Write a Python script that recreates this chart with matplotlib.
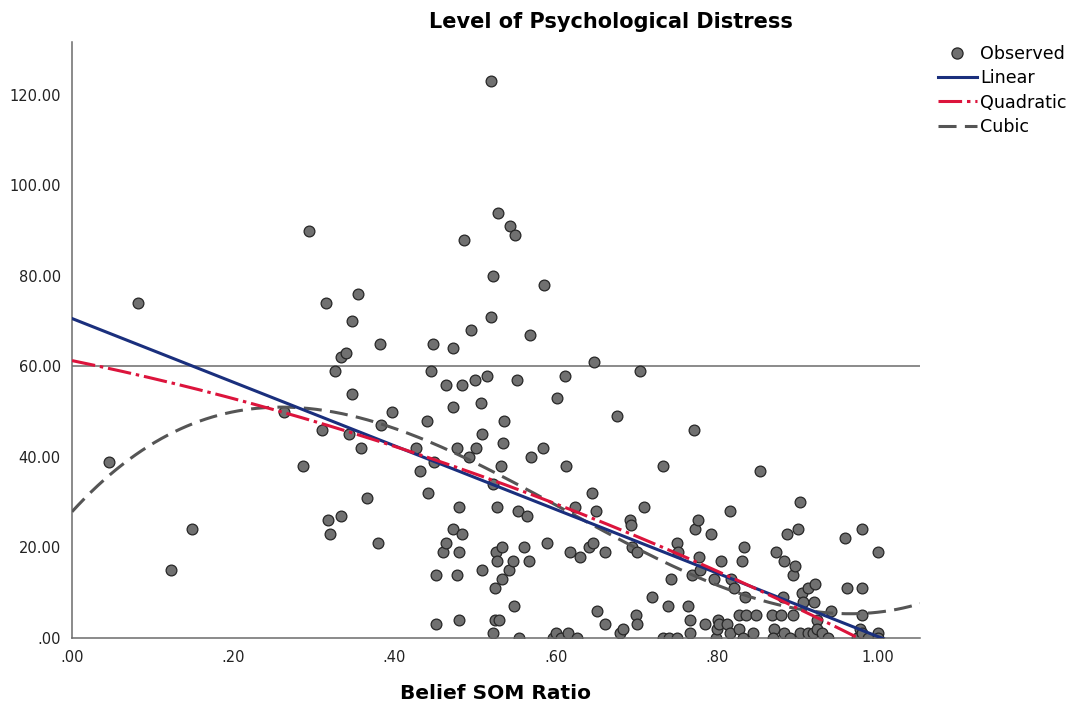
import numpy as np
import matplotlib
matplotlib.use("Agg")
import matplotlib.pyplot as plt
from matplotlib.lines import Line2D

plt.rcParams['font.family'] = ['DejaVu Sans']
plt.rcParams['lines.scale_dashes'] = False

belief_ratio = [
    0.046, 0.082, 0.123, 0.149, 0.263, 0.287, 0.294, 0.310, 0.315, 0.318,
    0.320, 0.326, 0.334, 0.340, 0.334, 0.344, 0.347, 0.347, 0.355, 0.359,
    0.366, 0.380, 0.382, 0.383, 0.397, 0.427, 0.432,
    0.440, 0.442, 0.445, 0.448, 0.449, 0.452, 0.452, 0.460, 0.464, 0.464,
    0.473, 0.473, 0.473, 0.478, 0.478, 0.480, 0.480, 0.480, 0.484, 0.484,
    0.486, 0.493, 0.495, 0.500, 0.501, 0.507, 0.509, 0.509, 0.515, 0.520,
    0.520, 0.522, 0.522, 0.525, 0.525, 0.530, 0.522, 0.527, 0.526, 0.527,
    0.529, 0.532, 0.533, 0.533, 0.535, 0.536, 0.542, 0.543, 0.547, 0.548,
    0.550, 0.552, 0.553, 0.555, 0.561, 0.565, 0.567, 0.568, 0.569, 0.584,
    0.586, 0.589,
    0.597, 0.600, 0.607, 0.615, 0.627, 0.602, 0.612, 0.613, 0.618, 0.624,
    0.630, 0.641, 0.646, 0.645, 0.648, 0.650, 0.651, 0.661, 0.661, 0.676,
    0.680, 0.684, 0.692, 0.694, 0.695, 0.701, 0.700, 0.701, 0.705, 0.710,
    0.720, 0.733, 0.733, 0.739, 0.743,
    0.741, 0.751, 0.751, 0.752, 0.764, 0.767, 0.767, 0.769, 0.772, 0.773,
    0.777, 0.778, 0.779, 0.785, 0.793, 0.797, 0.799, 0.800, 0.801, 0.803,
    0.805, 0.813, 0.816, 0.816, 0.818, 0.821, 0.828, 0.828, 0.833, 0.831,
    0.834, 0.835, 0.836, 0.845, 0.849, 0.854, 0.868, 0.871, 0.870, 0.873,
    0.880, 0.883, 0.883, 0.887, 0.882, 0.891,
    0.895, 0.897, 0.895, 0.901, 0.903, 0.903, 0.906, 0.907, 0.913, 0.913,
    0.919, 0.921, 0.922, 0.924, 0.924, 0.931, 0.938, 0.942, 0.959, 0.962,
    0.974, 0.978, 0.980, 0.980, 0.980, 0.980, 0.988, 1.000, 1.000, 1.000,
]
distress = [
    39, 74, 15, 24, 50, 38, 90, 46, 74, 26,
    23, 59, 62, 63, 27, 45, 70, 54, 76, 42,
    31, 21, 65, 47, 50, 42, 37,
    48, 32, 59, 65, 39, 14, 3, 19, 56, 21,
    64, 51, 24, 42, 14, 29, 19, 4, 56, 23,
    88, 40, 68, 57, 42, 52, 45, 15, 58, 123,
    71, 80, 34, 11, 4, 4, 1, 29, 19, 17,
    94, 38, 20, 13, 43, 48, 15, 91, 17, 7,
    89, 57, 28, 0, 20, 27, 17, 67, 40, 42,
    78, 21,
    0, 1, 0, 1, 0, 53, 58, 38, 19, 29,
    18, 20, 21, 32, 61, 28, 6, 19, 3, 49,
    1, 2, 26, 25, 20, 19, 5, 3, 59, 29,
    9, 38, 0, 7, 13,
    0, 0, 21, 19, 7, 4, 1, 14, 46, 24,
    26, 18, 15, 3, 23, 13, 0, 2, 4, 3,
    17, 3, 28, 1, 13, 11, 5, 2, 0, 17,
    20, 9, 5, 1, 5, 37, 5, 2, 0, 19,
    5, 17, 1, 23, 9, 0,
    14, 16, 5, 24, 30, 1, 10, 8, 11, 1,
    1, 8, 12, 4, 2, 1, 0, 6, 22, 11,
    0, 2, 24, 11, 5, 1, 0, 19, 1, 0,
]

# fitted curve coefficients (highest power first)
linear_coef = [-70.3, 70.6]
quadratic_coef = [-26.9, -36.6, 61.3]
cubic_coef = [260.1, -477.9, 195.6, 27.9]

reference_line = 60
x_ticks = [0.0, 0.2, 0.4, 0.6, 0.8, 1.0]
y_ticks = [0, 20, 40, 60, 80, 100, 120]


def spss_fmt(v):
    s = f"{v:.2f}"
    return s[1:] if s.startswith("0.") else s


fig = plt.figure(figsize=(10.78, 7.13), dpi=100)
ax = fig.add_axes([72 / 1078, 1 - 638 / 713, (920 - 72) / 1078, (638 - 42) / 713])

ax.set_xlim(0, 1.052)
ax.set_ylim(0, 131.7)

# reference line
ax.axhline(reference_line, color='#6b6b6b', linewidth=1.1, zorder=1)

# observed points
ax.scatter(belief_ratio, distress, s=60, facecolor='#707070', edgecolor='#262626',
           linewidth=0.9, zorder=2)

# fit lines
xs = np.linspace(0, 1.052, 400)
ax.plot(xs, np.polyval(linear_coef, xs), color='#1a2f7d', linewidth=2.2, zorder=4)
q_line, = ax.plot(xs, np.polyval(quadratic_coef, xs), color='#dc143c', linewidth=2.2, zorder=5)
q_line.set_dashes([17, 3.5, 2.5, 3.5])
c_line, = ax.plot(xs, np.polyval(cubic_coef, xs), color='#555555', linewidth=2.2, zorder=3)
c_line.set_dashes([13, 6])

# axes styling
for side in ['top', 'right']:
    ax.spines[side].set_visible(False)
for side in ['left', 'bottom']:
    ax.spines[side].set_color('#6b6b6b')
    ax.spines[side].set_linewidth(1.1)

ax.set_xticks(x_ticks)
ax.set_xticklabels([spss_fmt(v) for v in x_ticks])
ax.set_yticks(y_ticks)
ax.set_yticklabels([spss_fmt(v) for v in y_ticks])
ax.tick_params(axis='both', length=0, labelsize=10.5, colors='#222222')
ax.tick_params(axis='y', pad=8)
ax.tick_params(axis='x', pad=9)

ax.set_xlabel('Belief SOM Ratio', fontsize=14.5, fontweight='bold', labelpad=13)
fig.text(611 / 1078, 1 - 22 / 713, 'Level of Psychological Distress', fontsize=15,
         fontweight='bold', ha='center', va='center')

# legend
obs_h = Line2D([], [], linestyle='none', marker='o', markersize=8,
               markerfacecolor='#707070', markeredgecolor='#262626', markeredgewidth=0.9)
lin_h = Line2D([], [], color='#1a2f7d', linewidth=2.2)
quad_h = Line2D([], [], color='#dc143c', linewidth=2.2)
quad_h.set_dashes([17, 3.5, 2.5, 3.5])
cub_h = Line2D([], [], color='#555555', linewidth=2.2)
cub_h.set_dashes([13, 6])
fig.legend([obs_h, lin_h, quad_h, cub_h], ['Observed', 'Linear', 'Quadratic', 'Cubic'],
           loc='upper left', bbox_to_anchor=(938 / 1078, 1 - 45 / 713), frameon=False,
           fontsize=12.6, handlelength=2.2, handletextpad=0.2, labelspacing=0.36,
           borderpad=0, borderaxespad=0)

fig.savefig('out.png', dpi=100)
